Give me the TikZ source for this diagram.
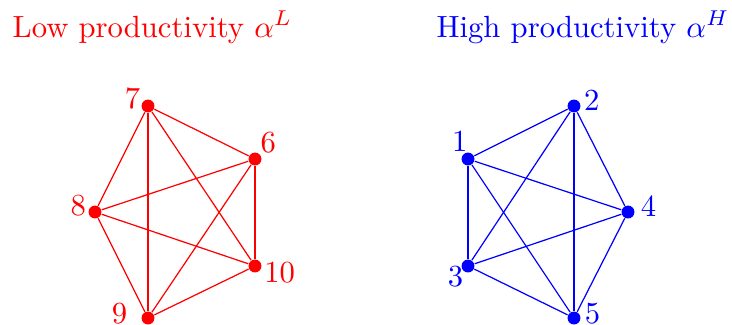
\documentclass[tikz,border=0pt]{standalone}
\usepackage{amsmath}
\usepackage{xcolor}
\usepackage{tikz}
\usetikzlibrary{positioning,calc}

\begin{document}
\begin{tikzpicture}[
  x=0.01146cm, y=-0.01146cm,
  dot/.style={circle, fill, inner sep=0pt, minimum size=4.2pt},
  lbl/.style={inner sep=0pt, anchor=center, font=\normalsize},
  lowg/.style={red},
  highg/.style={blue},
  edge/.style={line width=0.4pt}
]
\useasboundingbox (0,0) rectangle (732,324);
% titles
\node[lowg, anchor=base west, inner sep=0pt] (ttlL) at (12,37) {Low productivity $\alpha^L$};
\node[highg, anchor=base west, inner sep=0pt] (ttlH) at (436,37) {High productivity $\alpha^H$};
% low productivity group
\node[dot, lowg, label={[lbl, lowg, label distance=3.3pt]155:7}] (n7) at (148,106) {};
\node[dot, lowg, label={[lbl, lowg, label distance=4.6pt]51:6}] (n6) at (255,159) {};
\node[dot, lowg, label={[lbl, lowg, label distance=3.5pt]159:8}] (n8) at (95,212) {};
\node[dot, lowg, label={[lbl, lowg, label distance=6pt]-14:10}] (n10) at (255,266) {};
\node[dot, lowg, label={[lbl, lowg, label distance=7.1pt]172:9}] (n9) at (148,318) {};
% high productivity group
\node[dot, highg, label={[lbl, highg, label distance=3.8pt]19:2}] (n2) at (574,106) {};
\node[dot, highg, label={[lbl, highg, label distance=4pt]115:1}] (n1) at (468,159) {};
\node[dot, highg, label={[lbl, highg, label distance=4.7pt]17:4}] (n4) at (628,212) {};
\node[dot, highg, label={[lbl, highg, label distance=3pt]220:3}] (n3) at (468,266) {};
\node[dot, highg, label={[lbl, highg, label distance=3.9pt]13:5}] (n5) at (574,318) {};
% edges
\foreach \a/\b in {7/6,7/8,7/9,7/10,6/8,6/9,6/10,8/9,8/10,9/10}{\draw[edge, lowg] (n\a) -- (n\b);}
\foreach \a/\b in {1/2,1/3,1/4,1/5,2/3,2/4,2/5,3/4,3/5,4/5}{\draw[edge, highg] (n\a) -- (n\b);}
\end{tikzpicture}
\end{document}
